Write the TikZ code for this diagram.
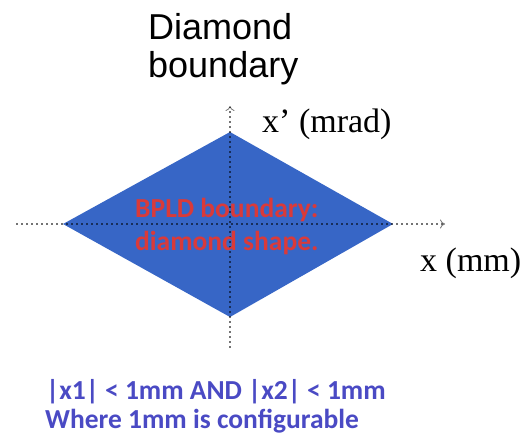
\documentclass[tikz,border=0pt]{standalone}
\usepackage{fontspec}
\setmainfont{Liberation Serif}
\newfontfamily\headfont{Liberation Sans}
\newfontfamily\calfont{Carlito}
\usetikzlibrary{arrows.meta}
\definecolor{diamondblue}{HTML}{3766C6}
\definecolor{labelred}{HTML}{D93A3A}
\definecolor{notebl}{HTML}{4A4AC4}
\tikzset{
  axisline/.style={draw=black, draw opacity=0.55, line width=1.1pt, dash pattern=on 2pt off 3pt, -{To[length=5pt,width=9pt,line width=0.8pt]}},
  txt/.style={anchor=base west, inner sep=0pt},
  redlab/.style={txt, font=\calfont\bfseries\fontsize{27.5}{29}\selectfont, text=labelred},
  note/.style={txt, font=\calfont\bfseries\fontsize{27.5}{29}\selectfont, text=notebl},
}
\begin{document}
\begin{tikzpicture}[x=1pt,y=-1pt]
\useasboundingbox (0,0) rectangle (530,437);
\coordinate (L) at (63,224);
\coordinate (R) at (393,224);
\coordinate (T) at (230,132);
\coordinate (B) at (230,317);
\fill[diamondblue] (L) -- (T) -- (R) -- (B) -- cycle;
\coordinate (hx0) at (16,224);
\coordinate (hx1) at (445,224);
\coordinate (vy0) at (230,348);
\coordinate (vy1) at (230,106);
\draw[axisline] (hx0) -- (hx1);
\draw[axisline] (vy0) -- (vy1);
\node[txt, font=\headfont\fontsize{36}{38}\selectfont] (title1) at (148,39) {Diamond};
\node[txt, font=\headfont\fontsize{36}{38}\selectfont] (title2) at (148,77) {boundary};
\node[txt, font=\fontsize{34}{36}\selectfont] (xp) at (262,132) {x’ (mrad)};
\node[txt, font=\fontsize{34}{36}\selectfont] (xl) at (420,271) {x (mm)};
\node[redlab] (lab1) at (135,217) {BPLD boundary:};
\node[redlab] (lab2) at (135,250) {diamond shape.};
\node[note] (n1) at (46,399) {|x1| < 1mm AND |x2| < 1mm};
\node[note] (n2) at (45,428) {Where 1mm is configurable};
\end{tikzpicture}
\end{document}
